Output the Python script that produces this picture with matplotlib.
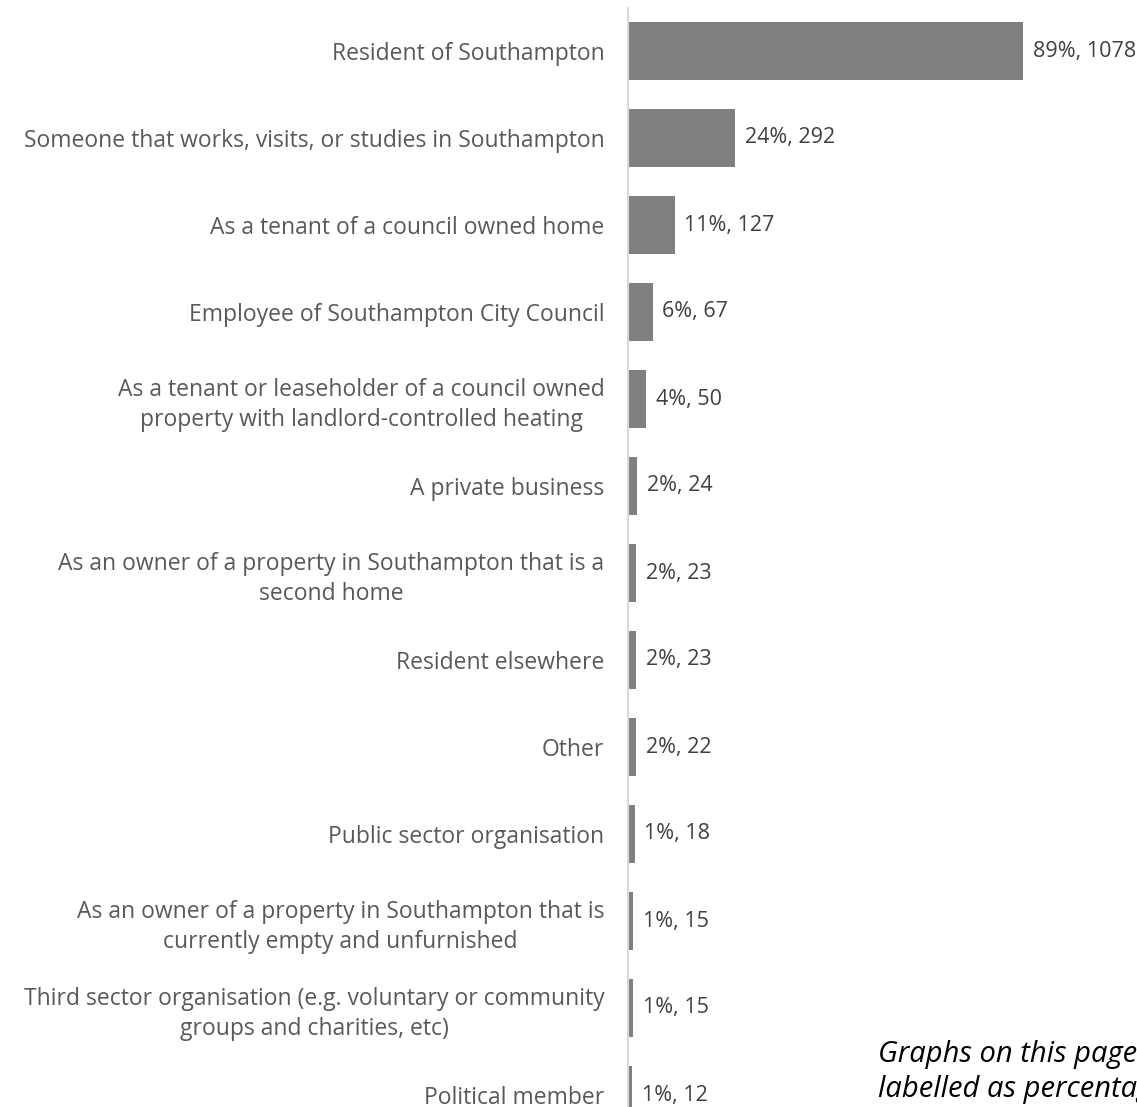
import matplotlib.pyplot as plt

plt.rcParams['font.family'] = ['Open Sans', 'DejaVu Sans']

# Respondent type (multiple choice)
categories = [
    "Resident of Southampton",
    "Someone that works, visits, or studies in Southampton",
    "As a tenant of a council owned home",
    "Employee of Southampton City Council",
    "As a tenant or leaseholder of a council owned\nproperty with landlord-controlled heating",
    "A private business",
    "As an owner of a property in Southampton that is a\nsecond home",
    "Resident elsewhere",
    "Other",
    "Public sector organisation",
    "As an owner of a property in Southampton that is\ncurrently empty and unfurnished",
    "Third sector organisation (e.g. voluntary or community\ngroups and charities, etc)",
    "Political member",
]
counts = [1078, 292, 127, 67, 50, 24, 23, 23, 22, 18, 15, 15, 12]
percents = [89, 24, 11, 6, 4, 2, 2, 2, 2, 1, 1, 1, 1]
note_lines = ["Graphs on this page are", "labelled as percentages and counts"]

W, H = 1137, 1107
fig = plt.figure(figsize=(W / 100, H / 100), dpi=100)
ax = fig.add_axes([628 / W, 0, 1 - 628 / W, (H - 8) / H])

y = list(range(len(categories)))
ax.barh(y, counts, height=0.66, color="#808080")
ax.set_xlim(0, 509 / 0.3664)
ax.set_ylim(12 + 12 / 87, -(51 - 8) / 87)

for yi, c, p in zip(y, counts, percents):
    ax.text(c + 27, yi, f"{p}%, {c}", va="center", ha="left",
            fontsize=15.5, color="#404040")

ax.set_yticks(y)
ax.set_yticklabels(categories, fontsize=16.5, color="#595959",
                   multialignment="center", linespacing=1.35)
ax.tick_params(axis="y", length=0, pad=17)
ax.set_xticks([])
for s in ["top", "right", "bottom"]:
    ax.spines[s].set_visible(False)
ax.spines["left"].set_color("#d9d9d9")
ax.spines["left"].set_linewidth(1.5)

# side note, runs off the right edge of the page
for line, yb in zip(note_lines, [1062, 1097]):
    fig.text(878 / W, 1 - yb / H, line, fontsize=21, style="italic",
             color="#000000", ha="left", va="baseline")

fig.savefig("out.png", dpi=100)
